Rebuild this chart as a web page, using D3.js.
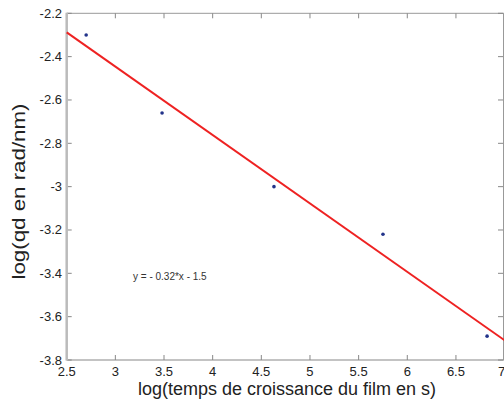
<!DOCTYPE html>
<html>
<head>
<meta charset="utf-8">
<script src="https://cdn.jsdelivr.net/npm/d3@7"></script>
<style>
  body { margin: 0; background: #fff; }
  text { font-family: "Liberation Sans", Arial, sans-serif; }
</style>
</head>
<body>
<svg id="Viz" width="504" height="405"></svg>
<script>
var svg = d3.select("#Viz"),
    width = +svg.attr("width"),
    height = +svg.attr("height");

// measured points
var logT = [2.70, 3.48, 4.63, 5.75, 6.82];
var logQd = [-2.30, -2.66, -3.00, -3.22, -3.69];

// fitted line ends
var fitX = [2.5, 7];
var fitY = [-2.288, -3.709];

var xTicks = [2.5, 3, 3.5, 4, 4.5, 5, 5.5, 6, 6.5, 7];
var yTicks = [-2.2, -2.4, -2.6, -2.8, -3, -3.2, -3.4, -3.6, -3.8];

var margin = {left: 66.7, top: 13.3, right: 0, bottom: 45};

var x = d3.scaleLinear().domain([2.5, 7]).range([margin.left, 504.6]);
var y = d3.scaleLinear().domain([-2.2, -3.8]).range([margin.top, 360]);

var fmt = function(d) { return String(d); };

// box
svg.append("line")
  .attr("x1", x(2.5)).attr("x2", width).attr("y1", y(-2.2)).attr("y2", y(-2.2))
  .attr("stroke", "#999").attr("stroke-width", 1);
svg.append("line")
  .attr("x1", x(2.5)).attr("x2", width).attr("y1", y(-3.8)).attr("y2", y(-3.8))
  .attr("stroke", "#888").attr("stroke-width", 1.2);
svg.append("line")
  .attr("x1", width - 0.5).attr("x2", width - 0.5).attr("y1", y(-2.2)).attr("y2", y(-3.8))
  .attr("stroke", "#999").attr("stroke-width", 1);

// ticks (inside)
var tl = 5;
svg.append("g").selectAll("line.bt").data(xTicks).enter().append("line")
  .attr("x1", function(d) { return x(d); }).attr("x2", function(d) { return x(d); })
  .attr("y1", y(-3.8)).attr("y2", y(-3.8) - tl)
  .attr("stroke", "#888");
svg.append("g").selectAll("line.tt").data(xTicks).enter().append("line")
  .attr("x1", function(d) { return x(d); }).attr("x2", function(d) { return x(d); })
  .attr("y1", y(-2.2)).attr("y2", y(-2.2) + tl)
  .attr("stroke", "#888");
svg.append("g").selectAll("line.lt").data(yTicks).enter().append("line")
  .attr("x1", x(2.5)).attr("x2", x(2.5) + tl)
  .attr("y1", function(d) { return y(d); }).attr("y2", function(d) { return y(d); })
  .attr("stroke", "#888");
svg.append("g").selectAll("line.rt").data(yTicks).enter().append("line")
  .attr("x1", width - 1).attr("x2", width - 1 - tl)
  .attr("y1", function(d) { return y(d); }).attr("y2", function(d) { return y(d); })
  .attr("stroke", "#888");

// left axis line (thicker, light grey)
svg.append("line")
  .attr("x1", x(2.5)).attr("x2", x(2.5)).attr("y1", y(-2.2) - 0.5).attr("y2", y(-3.8) + 0.5)
  .attr("stroke", "#bbb").attr("stroke-width", 2.5);

// tick labels
svg.append("g").selectAll("text").data(xTicks).enter().append("text")
  .attr("x", function(d) { return d === 7 ? x(d) - 3 : x(d); })
  .attr("y", 376)
  .attr("text-anchor", "middle")
  .attr("font-size", 13)
  .attr("fill", "#222")
  .text(fmt);
svg.append("g").selectAll("text").data(yTicks).enter().append("text")
  .attr("x", 62)
  .attr("y", function(d) { return y(d) + 4.5; })
  .attr("text-anchor", "end")
  .attr("font-size", 13)
  .attr("fill", "#222")
  .text(fmt);

// axis titles
svg.append("text")
  .attr("x", 287).attr("y", 395)
  .attr("text-anchor", "middle")
  .attr("font-size", 18)
  .attr("fill", "#222")
  .text("log(temps de croissance du film en s)");
svg.append("text")
  .attr("transform", "translate(25,191.5) rotate(-90)")
  .attr("text-anchor", "middle")
  .attr("font-size", 18)
  .attr("textLength", 176)
  .attr("lengthAdjust", "spacingAndGlyphs")
  .attr("fill", "#222")
  .text("log(qd en rad/nm)");

// fit line
var line = d3.line()
  .x(function(d) { return x(d[0]); })
  .y(function(d) { return y(d[1]); });
svg.append("path")
  .datum(d3.zip(fitX, fitY))
  .attr("d", line)
  .attr("fill", "none")
  .attr("stroke", "#ee2222")
  .attr("stroke-width", 2);

// points
svg.append("g").selectAll("circle").data(d3.zip(logT, logQd)).enter().append("circle")
  .attr("cx", function(d) { return x(d[0]); })
  .attr("cy", function(d) { return y(d[1]); })
  .attr("r", 1.8)
  .attr("fill", "#22338a");

// equation
svg.append("text")
  .attr("x", 133).attr("y", 280)
  .attr("font-size", 10)
  .attr("fill", "#333")
  .text("y = - 0.32*x - 1.5");
</script>
</body>
</html>
